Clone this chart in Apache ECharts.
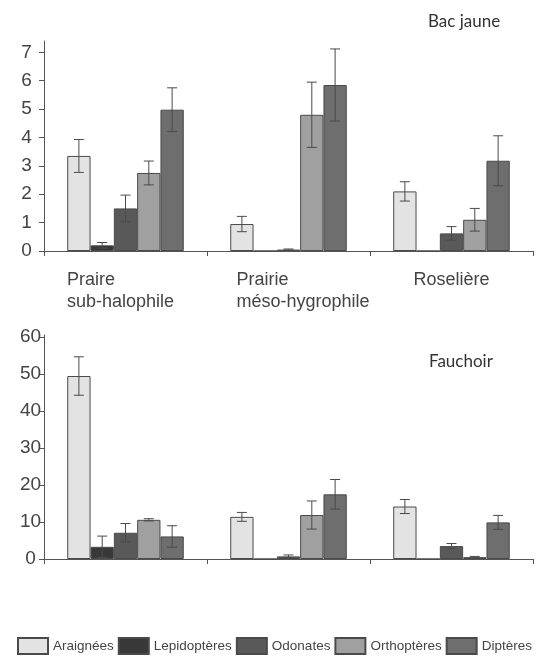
<!DOCTYPE html>
<html>
<head>
<meta charset="utf-8">
<script src="https://cdn.jsdelivr.net/npm/echarts@6/dist/echarts.min.js"></script>
<style>
  html, body { margin: 0; padding: 0; background: #ffffff; }
  #chart { width: 548px; height: 669px; }
</style>
</head>
<body>
<div id="chart"></div>
<script>
// ---------- data ----------
const categories = ['Praire\nsub-halophile', 'Prairie\nméso-hygrophile', 'Roselière'];
const taxa = ['Araignées', 'Lepidoptères', 'Odonates', 'Orthoptères', 'Diptères'];

// Bac jaune (top panel): means and error half-widths per habitat
const bacAraignees = [3.35, 0.95, 2.1];
const bacAraigneesErr = [0.58, 0.27, 0.34];
const bacLepidopteres = [0.2, 0, 0];
const bacLepidopteresErr = [0.1, 0, 0];
const bacOdonates = [1.5, 0.05, 0.62];
const bacOdonatesErr = [0.47, 0.02, 0.24];
const bacOrthopteres = [2.75, 4.8, 1.1];
const bacOrthopteresErr = [0.42, 1.15, 0.4];
const bacDipteres = [4.98, 5.85, 3.18];
const bacDipteresErr = [0.77, 1.27, 0.88];

// Fauchoir (bottom panel)
const fauAraignees = [49.5, 11.4, 14.2];
const fauAraigneesErr = [5.2, 1.2, 1.9];
const fauLepidopteres = [3.3, 0, 0];
const fauLepidopteresErr = [2.9, 0, 0];
const fauOdonates = [7.1, 0.7, 3.5];
const fauOdonatesErr = [2.5, 0.4, 0.7];
const fauOrthopteres = [10.6, 11.9, 0.5];
const fauOrthopteresErr = [0.3, 3.8, 0.2];
const fauDipteres = [6.1, 17.5, 9.9];
const fauDipteresErr = [2.9, 4.0, 1.9];

const bacTicks = [0, 1, 2, 3, 4, 5, 6, 7];
const fauTicks = [0, 10, 20, 30, 40, 50, 60];
const bacTitle = 'Bac jaune';
const fauTitle = 'Fauchoir';

// ---------- styling ----------
const colors = ['#e3e3e3', '#383838', '#595959', '#a0a0a0', '#6e6e6e'];
const CAT_GAP = 0.285;
const axisColor = '#555';
const textColor = '#444';
const labelFont = '"Liberation Sans", Arial, sans-serif';

const bacMeans = [bacAraignees, bacLepidopteres, bacOdonates, bacOrthopteres, bacDipteres];
const bacErrs = [bacAraigneesErr, bacLepidopteresErr, bacOdonatesErr, bacOrthopteresErr, bacDipteresErr];
const fauMeans = [fauAraignees, fauLepidopteres, fauOdonates, fauOrthopteres, fauDipteres];
const fauErrs = [fauAraigneesErr, fauLepidopteresErr, fauOdonatesErr, fauOrthopteresErr, fauDipteresErr];

function errData(means, errs) {
  const out = [];
  means.forEach((arr, k) => arr.forEach((v, c) => {
    if (errs[k][c] > 0) out.push([c, v, k, errs[k][c]]);
  }));
  return out;
}

function renderErr(params, api) {
  const cat = api.value(0), v = api.value(1), k = api.value(2), e = api.value(3);
  const band = api.size([1, 0])[0];
  const bw = band * (1 - CAT_GAP) / taxa.length;
  const x = api.coord([cat, v])[0] + (k - (taxa.length - 1) / 2) * bw;
  const yT = api.coord([cat, v + e])[1];
  const yB = api.coord([cat, Math.max(0, v - e)])[1];
  const cap = 5;
  const st = { stroke: '#4a4a4a', lineWidth: 1 };
  return {
    type: 'group',
    children: [
      { type: 'line', shape: { x1: x, y1: yT, x2: x, y2: yB }, style: st },
      { type: 'line', shape: { x1: x - cap, y1: yT, x2: x + cap, y2: yT }, style: st },
      { type: 'line', shape: { x1: x - cap, y1: yB, x2: x + cap, y2: yB }, style: st }
    ]
  };
}

const series = [];
taxa.forEach((name, k) => {
  series.push({
    name: name, type: 'bar', xAxisIndex: 0, yAxisIndex: 0,
    data: bacMeans[k], barGap: '0%', barCategoryGap: (CAT_GAP * 100) + '%',
    itemStyle: { color: colors[k], borderColor: '#4a4a4a', borderWidth: 1 },
    emphasis: { disabled: true }
  });
});
taxa.forEach((name, k) => {
  series.push({
    name: name, type: 'bar', xAxisIndex: 1, yAxisIndex: 1,
    data: fauMeans[k], barGap: '0%', barCategoryGap: (CAT_GAP * 100) + '%',
    itemStyle: { color: colors[k], borderColor: '#4a4a4a', borderWidth: 1 },
    emphasis: { disabled: true }
  });
});
series.push({
  type: 'custom', xAxisIndex: 0, yAxisIndex: 0, silent: true, z: 5,
  renderItem: renderErr, encode: { x: 0, y: 1 }, data: errData(bacMeans, bacErrs)
});
series.push({
  type: 'custom', xAxisIndex: 1, yAxisIndex: 1, silent: true, z: 5,
  renderItem: renderErr, encode: { x: 0, y: 1 }, data: errData(fauMeans, fauErrs)
});

const richCat = {
  c0: { width: 117, align: 'left', fontSize: 18, fontFamily: labelFont, color: textColor, lineHeight: 22 },
  c1: { width: 104, align: 'left', fontSize: 18, fontFamily: labelFont, color: textColor, lineHeight: 22 },
  c2: { width: 76, align: 'left', fontSize: 18, fontFamily: labelFont, color: textColor, lineHeight: 22 }
};

function xAxisCfg(grid, showLabel) {
  return {
    type: 'category', gridIndex: grid, data: categories,
    axisLine: { lineStyle: { color: axisColor, width: 1 } },
    axisTick: { show: true, length: 5, lineStyle: { color: axisColor } },
    axisLabel: showLabel ? {
      show: true, margin: 18, align: 'center',
      formatter: (v, i) => v.split('\n').map(l => '{c' + i + '|' + l + '}').join('\n'),
      rich: richCat
    } : { show: false }
  };
}

function yAxisCfg(grid, max, ticks, margin) {
  return {
    type: 'value', gridIndex: grid, min: 0, max: max,
    splitLine: { show: false },
    axisLine: { show: true, lineStyle: { color: axisColor, width: 1 } },
    axisTick: { show: true, length: 5, lineStyle: { color: axisColor }, customValues: ticks },
    axisLabel: {
      customValues: ticks, align: 'center', margin: margin,
      fontSize: 19, fontFamily: labelFont, color: textColor
    }
  };
}

const chart = echarts.init(document.getElementById('chart'), null, { renderer: 'canvas' });
chart.setOption({
  backgroundColor: '#ffffff',
  animation: false,
  title: [
    { text: bacTitle, left: 428, top: 13, textStyle: { fontFamily: 'Lato, "Open Sans", sans-serif', fontSize: 17, fontWeight: 'normal', color: '#333' }, padding: 0 },
    { text: fauTitle, left: 429, top: 353, textStyle: { fontFamily: 'Lato, "Open Sans", sans-serif', fontSize: 17, fontWeight: 'normal', color: '#333' }, padding: 0 }
  ],
  legend: {
    data: taxa, left: 17, top: 637, padding: 0,
    icon: 'rect', itemWidth: 30, itemHeight: 16, itemGap: 4,
    selectedMode: false,
    textStyle: { fontSize: 13.5, fontFamily: labelFont, color: '#444', padding: [0, 0, 0, 0] }
  },
  grid: [
    { left: 44, right: 15, top: 41, bottom: 418, containLabel: false },
    { left: 44, right: 15, top: 335, bottom: 110, containLabel: false }
  ],
  xAxis: [xAxisCfg(0, true), xAxisCfg(1, false)],
  yAxis: [yAxisCfg(0, 7.4, bacTicks, 17.5), yAxisCfg(1, 60.6, fauTicks, 13.5)],
  series: series
});
</script>
</body>
</html>
